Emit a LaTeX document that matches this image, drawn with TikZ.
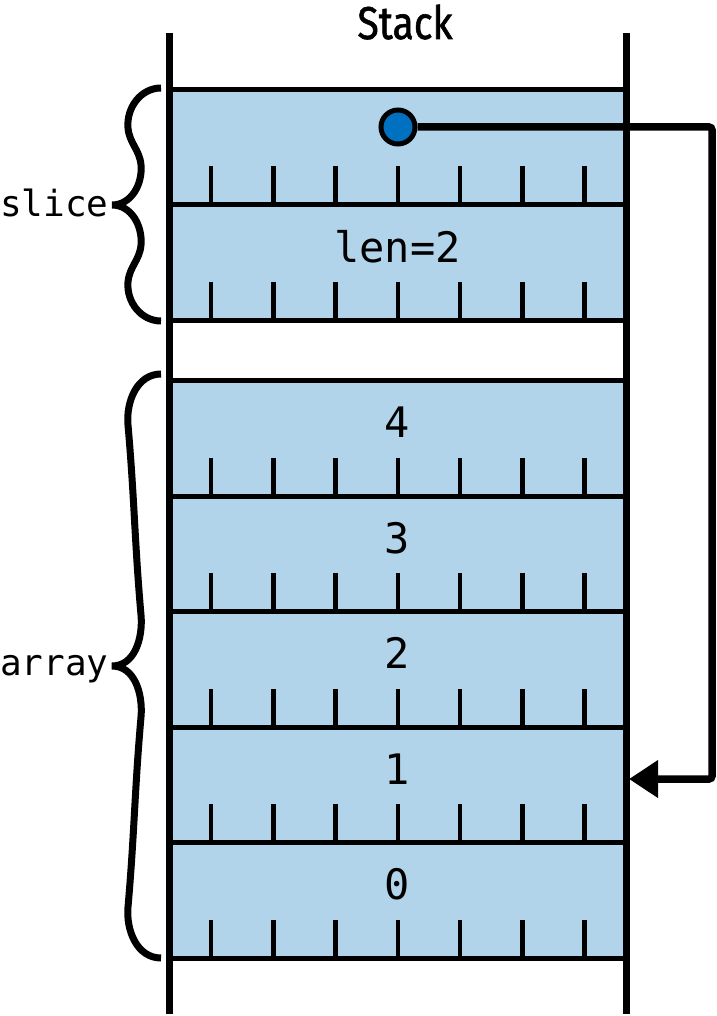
\documentclass[tikz,border=0pt]{standalone}
\usepackage{fontspec}
\usetikzlibrary{arrows.meta}
\newfontfamily\cellmono{DejaVu Sans Mono}
\newfontfamily\titlesans[FakeStretch=0.85,FakeBold=1.2]{Fira Sans}
\definecolor{cellblue}{RGB}{178,212,234}
\definecolor{dotblue}{RGB}{0,112,192}
\tikzset{
  wall/.style={line width=7pt},
  sepline/.style={line width=5pt},
  tickline/.style={line width=4.5pt},
  rowbox/.style={fill=cellblue, draw=none, minimum width=457pt, inner sep=0pt, outer sep=0pt},
  celltext/.style={font=\cellmono\fontsize{42}{42}\selectfont, anchor=base, inner sep=0pt},
  sidelabel/.style={font=\cellmono\fontsize{36}{36}\selectfont, anchor=base west, inner sep=0pt},
  bracestroke/.style={line width=7pt},
  conn/.style={line width=7.5pt, rounded corners=3pt, -{Triangle[length=29pt,width=36pt]}},
}
\begin{document}
\begin{tikzpicture}[x=1pt,y=1pt]
\useasboundingbox (0,0) rectangle (716,-1016);
% rows (fill)
\node[rowbox, minimum height=115pt] (s0) at (397.5,-147) {};
\node[rowbox, minimum height=115pt] (s1) at (397.5,-262) {};
\node[rowbox, minimum height=116pt] (a4) at (397.5,-438) {};
\node[rowbox, minimum height=116pt] (a3) at (397.5,-553.5) {};
\node[rowbox, minimum height=116pt] (a2) at (397.5,-669) {};
\node[rowbox, minimum height=116pt] (a1) at (397.5,-784.5) {};
\node[rowbox, minimum height=116pt] (a0) at (397.5,-900) {};
% separator lines
\foreach \y in {90,204.5,320,380,496,611,727,842,958}
  \draw[sepline] (169,-\y) -- (626,-\y);
% ticks
\foreach \b in {204.5,320,496,611,727,842,958}
  \foreach \x in {211,273.25,335.5,397.75,460,522.25,584.5}
    \draw[tickline] (\x,-\b+1) -- (\x,-\b+38);
% walls
\draw[wall] (169,-33) -- (169,-1014);
\draw[wall] (626,-33) -- (626,-1014);
% title
\node[font=\titlesans\fontsize{46}{46}\selectfont, anchor=base, inner sep=0pt] (title) at (405,-39) {Stack};
% cell texts
\node[celltext] (tlen) at (397.5,-262) {len=2};
\node[celltext] (t4) at (397.5,-437) {4};
\node[celltext] (t3) at (397.5,-553) {3};
\node[celltext] (t2) at (397.5,-668) {2};
\node[celltext] (t1) at (397.5,-784) {1};
\node[celltext] (t0) at (397.5,-899) {0};
% side labels
\node[sidelabel] (lslice) at (0,-217) {slice};
\node[sidelabel] (larray) at (0,-675) {array};
% braces
\draw[bracestroke] (161,-88) to[out=180,in=95] (128,-128) to[out=-85,in=95] (141,-165)
  to[out=-85,in=0] (112,-205) to[out=0,in=85] (141,-245) to[out=-95,in=85] (128,-282)
  to[out=-95,in=180] (161,-321);
\draw[bracestroke] (161,-374) to[out=180,in=95] (128,-425) to[out=-85,in=95] (141,-615)
  to[out=-85,in=0] (112,-666) to[out=0,in=85] (141,-717) to[out=-95,in=85] (128,-907)
  to[out=-95,in=180] (161,-958);
% pointer
\node[circle, fill=dotblue, draw=black, line width=5pt, minimum size=34pt, inner sep=0pt] (dot) at (398,-127) {};
\coordinate (bend) at (712,-127);
\coordinate (p1) at (629,-779);
\draw[conn] (dot.east) -- (bend) |- (p1);
\end{tikzpicture}
\end{document}
